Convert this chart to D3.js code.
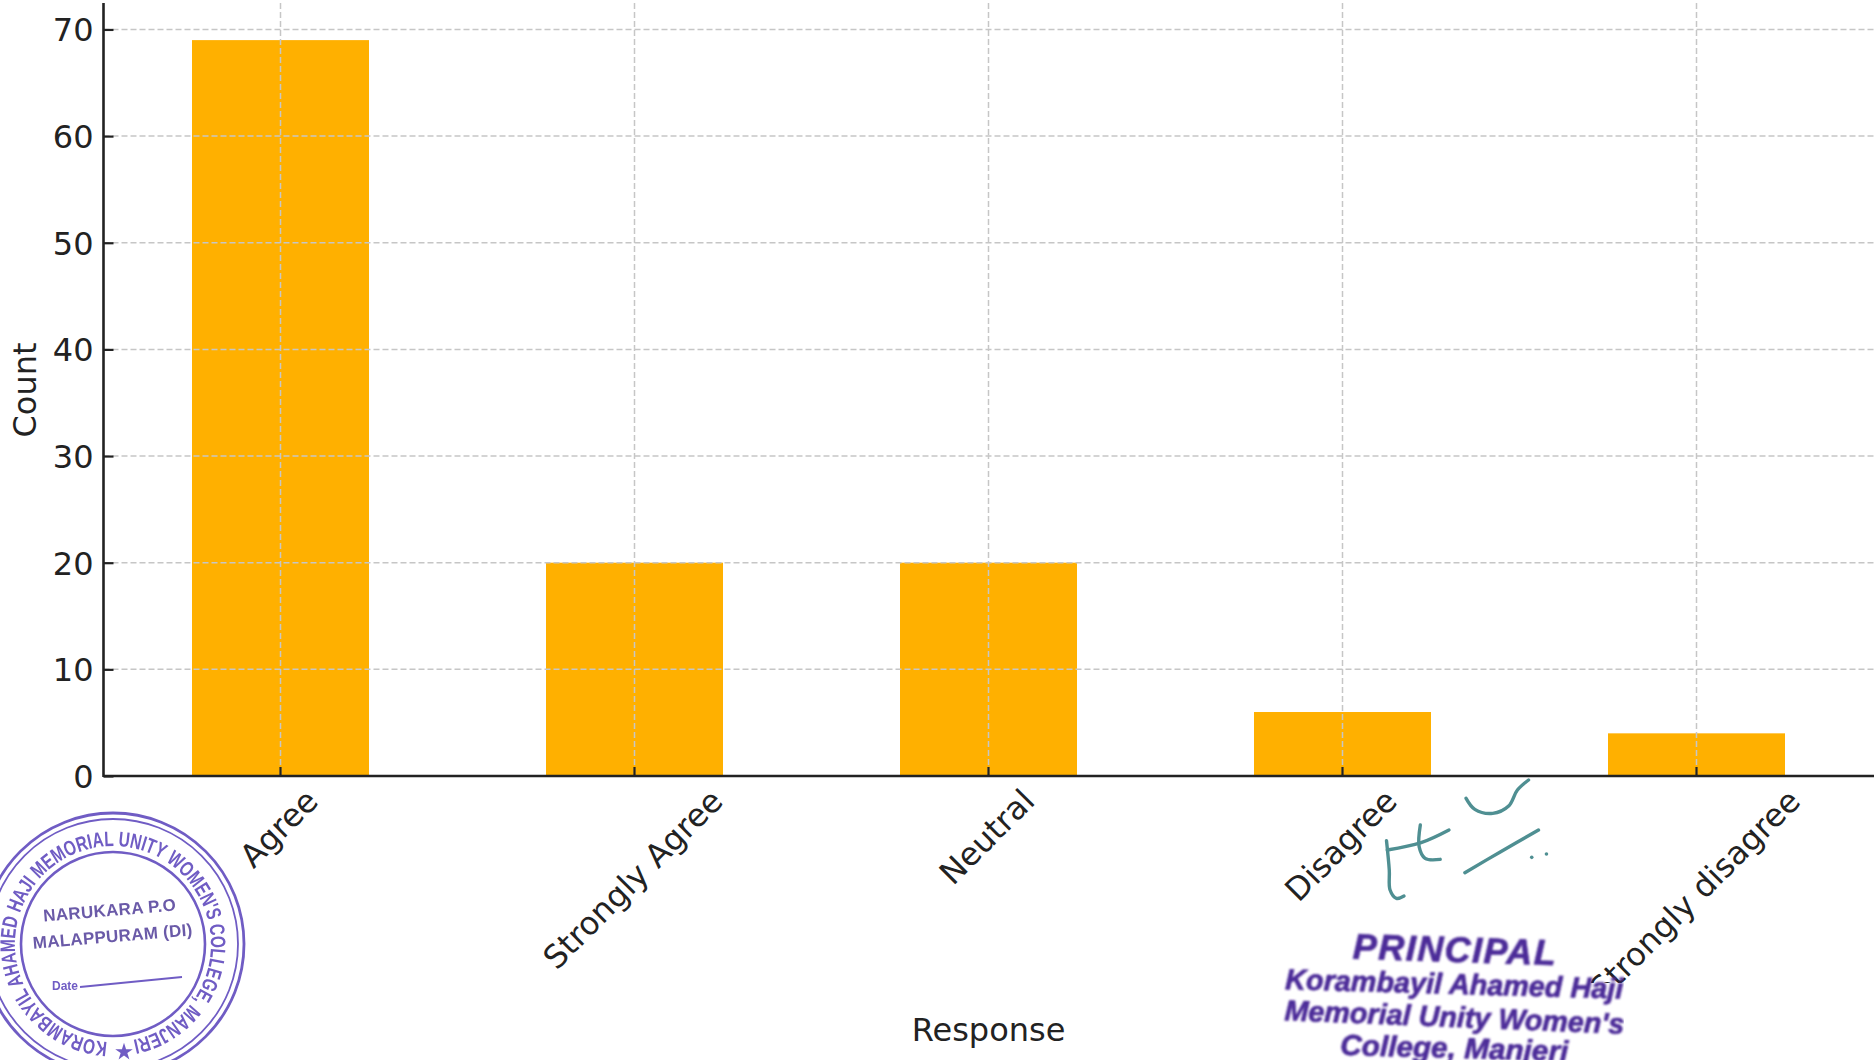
<!DOCTYPE html>
<html><head><meta charset="utf-8">
<script src="https://cdn.jsdelivr.net/npm/d3@7"></script>
<style>html,body{margin:0;padding:0;background:#fff;overflow:hidden}svg{display:block}text{font-family:"DejaVu Sans",sans-serif;fill:#222}</style>
</head><body><svg id="c" width="1874" height="1060"></svg>
<script>
const categories = ["Agree","Strongly Agree","Neutral","Disagree","Strongly disagree"];
const counts = [69,20,20,6,4];
const yTicks = [0,10,20,30,40,50,60,70];
const xTitle = "Response", yTitle = "Count";
const stampRing = "KORAMBAYIL AHAMED HAJI MEMORIAL UNITY WOMEN'S COLLEGE, MANJERI";
const sealLines = ["PRINCIPAL","Korambayil Ahamed Haji","Memorial Unity Women's","College, Manjeri"];

const W=1874,H=1060,L=103.5,R=1873.5,B=776,PerTen=106.65;
const svg=d3.select("#c");
const x=d3.scaleBand().domain(categories).range([L,R]).paddingInner(.5).paddingOuter(.25);
const y=d3.scaleLinear().domain([0,70]).range([B,B-7*PerTen]);
const FS=32;

// bars
svg.append("g").selectAll("rect").data(categories).join("rect")
  .attr("x",d=>x(d)).attr("width",x.bandwidth())
  .attr("y",(d,i)=>y(counts[i])).attr("height",(d,i)=>y(0)-y(counts[i]))
  .attr("fill","#FFB000");

// grid
const grid=svg.append("g").attr("stroke","#c6c6c6").attr("stroke-width",1.5).attr("stroke-dasharray","6 3").attr("fill","none");
yTicks.slice(1).forEach(t=>grid.append("line").attr("x1",L).attr("x2",W).attr("y1",y(t)).attr("y2",y(t)));
categories.forEach(c=>{const p=x(c)+x.bandwidth()/2;grid.append("line").attr("x1",p).attr("x2",p).attr("y1",3).attr("y2",B)});

// axes (inward ticks)
const yAxis=svg.append("g").attr("transform",`translate(${L},0)`).call(d3.axisLeft(y).tickValues(yTicks).tickSize(-10).tickPadding(10));
yAxis.select(".domain").remove();
yAxis.selectAll("line").attr("stroke","#222").attr("stroke-width",2.2);
yAxis.selectAll("text").style("font-size",FS+"px").attr("fill","#222").attr("dy","0.36em").attr("font-family",null);
const xAxis=svg.append("g").attr("transform",`translate(0,${B})`).call(d3.axisBottom(x).tickSize(-9).tickFormat(""));
xAxis.select(".domain").remove();
xAxis.selectAll("line").attr("stroke","#222").attr("stroke-width",2.2);
svg.append("line").attr("x1",L).attr("x2",L).attr("y1",3).attr("y2",B+1).attr("stroke","#222").attr("stroke-width",2.6);
svg.append("line").attr("x1",L).attr("x2",W).attr("y1",B).attr("y2",B).attr("stroke","#222").attr("stroke-width",2.6);

// rotated category labels: rotated bbox top aligned just under the axis
const S=Math.SQRT1_2, labelTop=783.5;
categories.forEach(c=>{
  const t=svg.append("text").style("font-size",FS+"px").attr("text-anchor","middle").attr("dy","0.36em").text(c);
  const w=t.node().getComputedTextLength(), h=FS*1.0;
  const cy=labelTop+(w+h)*S/2, cx=x(c)+x.bandwidth()/2-2;
  t.attr("transform",`translate(${cx},${cy}) rotate(-45)`);
});

// axis titles
svg.append("text").attr("x",988.5).attr("y",1041).attr("text-anchor","middle").style("font-size",FS+"px").text(xTitle);
svg.append("text").attr("transform","translate(36,390) rotate(-90)").attr("text-anchor","middle").style("font-size",FS+"px").text(yTitle);

// pasted-in seal area hides what lies beneath it
svg.append("rect").attr("x",1270).attr("y",983).attr("width",354).attr("height",77).attr("fill","#fff");

// defs
const defs=svg.append("defs");
defs.append("filter").attr("id","soft").append("feGaussianBlur").attr("stdDeviation",.7);
defs.append("filter").attr("id","soft2").append("feGaussianBlur").attr("stdDeviation",.9);
defs.append("clipPath").attr("id","sealClip").append("rect").attr("x",1270).attr("y",910).attr("width",354).attr("height",150);

// stamp
const sx=113,sy=944,ink="#6f5cc4";
const st=svg.append("g").attr("filter","url(#soft)");
[[131,2.8],[125,1.8],[92,2.6]].forEach(([r,w])=>st.append("circle").attr("cx",sx).attr("cy",sy).attr("r",r).attr("fill","none").attr("stroke",ink).attr("stroke-width",w));
const ringPath=d3.path();ringPath.arc(sx,sy,98,Math.atan2(108,-6),Math.atan2(108,-6)+Math.PI*2-.27,false);
defs.append("path").attr("id","ring").attr("d",ringPath.toString());
st.append("text").style("font-family","'Liberation Sans'").style("font-size","21px").style("font-weight","bold").style("fill",ink)
  .append("textPath").attr("href","#ring").attr("textLength",590).attr("lengthAdjust","spacingAndGlyphs").text(stampRing);
const inner=(txt,cx,cy,size,len)=>st.append("text").attr("transform",`translate(${cx},${cy}) rotate(-4.8)`).attr("text-anchor","middle")
  .style("font-family","'Liberation Sans'").style("font-size",size+"px").style("font-weight","bold").style("fill","#6b5aa8").attr("textLength",len).text(txt);
inner("NARUKARA P.O",110,916,17,133);
inner("MALAPPURAM (DI)",113,942,17,160);
st.append("text").attr("x",52).attr("y",990).style("font-family","'Liberation Sans'").style("font-size","12px").style("font-weight","bold").style("fill",ink).text("Date");
st.append("path").attr("d","M80,987L182,977").attr("stroke",ink).attr("stroke-width",1.8).attr("fill","none");
st.append("path").attr("d",d3.symbol(d3.symbolStar,95)()).attr("transform","translate(124,1052)").attr("fill",ink);

// signature
const z=(a,b)=>[1250+a/2.513,770+b/3];
const curve=d3.line().curve(d3.curveCatmullRom);
const sig=svg.append("g").attr("filter","url(#soft)").attr("fill","none").attr("stroke","#4f8f92").attr("stroke-width",3.4).attr("stroke-linecap","round");
[
 [[343,212],[350,300],[352,360],[368,385],[387,378]],
 [[345,240],[430,218],[500,180]],
 [[428,165],[425,230],[440,265],[478,268]],
 [[543,85],[565,118],[610,130],[650,108],[672,60],[700,30]],
 [[540,308],[630,245],[725,180]]
].forEach(p=>sig.append("path").attr("d",curve(p.map(q=>z(q[0],q[1])))));
[[708,262],[745,252]].forEach(p=>{const q=z(p[0],p[1]);sig.append("circle").attr("cx",q[0]).attr("cy",q[1]).attr("r",1.8).attr("fill","#4f8f92").attr("stroke","none")});

// principal seal
const sealRows=[[1454,962,36,203,1.8],[1454,994,29,338,1.6],[1454,1027,29,340,2.3],[1454,1058,29,228,1.6]];
const seal=svg.append("g").attr("clip-path","url(#sealClip)").append("g").attr("filter","url(#soft2)");
sealRows.forEach((d,i)=>{
  seal.append("text").attr("transform",`translate(${d[0]},${d[1]}) rotate(${d[4]})`).attr("text-anchor","middle")
    .style("font-family","'Liberation Sans'").style("font-style","italic").style("font-weight","bold").style("font-size",d[2]+"px")
    .style("fill","#4b2a98").style("stroke","#4b2a98").style("stroke-width",.7)
    .attr("textLength",d[3]).attr("lengthAdjust",i==0?"spacing":"spacingAndGlyphs").text(sealLines[i]);
});
</script></body></html>
